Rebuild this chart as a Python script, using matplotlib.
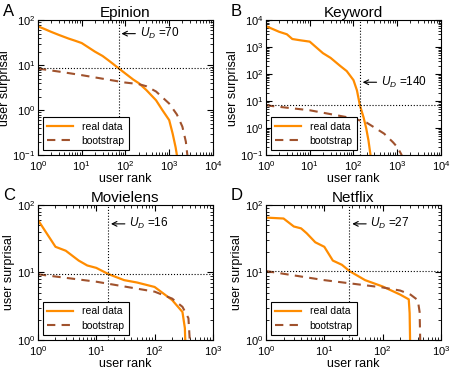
import numpy as np
import matplotlib
matplotlib.use('Agg')
import matplotlib.pyplot as plt

plt.rcParams['font.family'] = ['Liberation Sans', 'DejaVu Sans']
plt.rcParams['mathtext.fontset'] = 'custom'
plt.rcParams['mathtext.rm'] = 'Liberation Sans'
plt.rcParams['mathtext.it'] = 'Liberation Sans:italic'
plt.rcParams['xtick.major.size'] = 4
plt.rcParams['ytick.major.size'] = 4
plt.rcParams['xtick.minor.size'] = 2
plt.rcParams['ytick.minor.size'] = 2

# Epinion
ep_rank = [1, 1.5, 2, 3, 5, 7, 10, 15, 20, 30, 40, 50, 70, 100, 150, 200, 300, 500, 700, 1000, 1200, 1400, 1500]
ep_real = [73, 62, 55, 47, 39, 35, 31, 24, 20, 16, 13, 11, 8.5, 6.5, 4.8, 4, 2.8, 1.66, 1.0, 0.6, 0.3, 0.15, 0.1]
ep_boot_rank = [1, 3, 10, 30, 100, 200, 300, 500, 1000, 1500, 2000, 2400, 2600]
ep_boot = [8.4, 7.2, 6, 5, 4.1, 3.8, 3.4, 2.6, 1.4, 0.8, 0.43, 0.2, 0.1]

# Keyword
kw_rank = [1, 2, 3, 4, 6, 10, 15, 20, 30, 50, 70, 100, 120, 140, 170, 195, 220, 245]
kw_real = [6000, 3700, 3000, 2000, 1800, 1600, 900, 600, 400, 200, 130, 60, 25, 7, 2.5, 1, 0.35, 0.1]
kw_boot_rank = [1, 10, 100, 200, 500, 800, 1000, 1270]
kw_boot = [7, 4.6, 2.3, 1.6, 0.63, 0.3, 0.2, 0.1]

# Movielens
ml_rank = [1, 2, 3, 5, 7, 10, 16, 30, 50, 100, 200, 300, 330, 335]
ml_real = [60, 24, 21, 15, 12.7, 11.7, 9.5, 7.7, 7.1, 6.1, 3.9, 2.6, 1.5, 1]
ml_boot_rank = [1, 10, 100, 200, 300, 380, 400]
ml_boot = [9.4, 7.3, 5.2, 4.1, 3.1, 2.1, 1]

# Netflix
nf_rank = [1, 2, 3, 4, 5, 7, 10, 14, 20, 27, 50, 100, 200, 280, 290, 295]
nf_real = [65, 63, 48, 45, 38, 28, 24, 15, 13, 10.5, 7.7, 6.2, 4.7, 4, 2.5, 1]
nf_boot_rank = [1, 10, 100, 200, 300, 400, 430, 440]
nf_boot = [10.5, 7.7, 6.0, 5.4, 4.7, 3.9, 2.6, 1]

panels = [
    ('A', 'Epinion', ep_rank, ep_real, ep_boot_rank, ep_boot, 70, 8.5, 0.90, (1, 1e4), (1e-1, 1e2)),
    ('B', 'Keyword', kw_rank, kw_real, kw_boot_rank, kw_boot, 140, 7, 0.54, (1, 1e4), (1e-1, 1e4)),
    ('C', 'Movielens', ml_rank, ml_real, ml_boot_rank, ml_boot, 16, 9.5, 0.86, (1, 1e3), (1, 1e2)),
    ('D', 'Netflix', nf_rank, nf_real, nf_boot_rank, nf_boot, 27, 10.5, 0.86, (1, 1e3), (1, 1e2)),
]

positions = [
    [0.083, 0.584, 0.383, 0.362],
    [0.582, 0.584, 0.383, 0.362],
    [0.083, 0.0885, 0.383, 0.362],
    [0.582, 0.0885, 0.383, 0.362],
]

fig = plt.figure(figsize=(4.57, 3.73), dpi=100)

for (letter, title, r, y, br, by, ud, uy, ty, xl, yl), pos in zip(panels, positions):
    ax = fig.add_axes(pos)
    ax.loglog(r, y, color='#ff8c00', lw=1.6, label='real data')
    ax.loglog(br, by, color='#a0522d', lw=1.5, ls=(0, (4, 3)), label='bootstrap')
    ax.axvline(ud, color='k', ls=':', lw=0.8)
    ax.axhline(uy, color='k', ls=':', lw=0.8)
    ax.set_xlim(xl)
    ax.set_ylim(yl)
    ax.tick_params(which='both', direction='in', top=True, right=True, labelsize=8)
    ax.tick_params(axis='y', pad=2)
    ax.tick_params(axis='x', pad=3)
    ax.set_title(title, fontsize=11, pad=2)
    ax.set_xlabel('user rank', fontsize=9, labelpad=0)
    ax.set_ylabel('user surprisal', fontsize=9, labelpad=1)
    # flecha apontando para a linha vertical de U_D
    ax.annotate(r'$U_D$ =%d' % ud, xy=(ud, ty), xycoords=('data', 'axes fraction'),
                xytext=(15, 0), textcoords='offset points',
                fontsize=8.5, va='center', ha='left',
                arrowprops=dict(arrowstyle='->', color='k', lw=0.8, shrinkA=1, shrinkB=2))
    leg = ax.legend(loc='lower left', fontsize=7.5, fancybox=False, framealpha=1,
                    edgecolor='k', handlelength=2.5, borderpad=0.4, labelspacing=0.4,
                    bbox_to_anchor=(0.0, 0.0))
    leg.get_frame().set_linewidth(0.8)
    fig.text(pos[0] - 0.077, pos[1] + pos[3] + 0.012, letter, fontsize=12)

fig.savefig('out.png', dpi=100)
